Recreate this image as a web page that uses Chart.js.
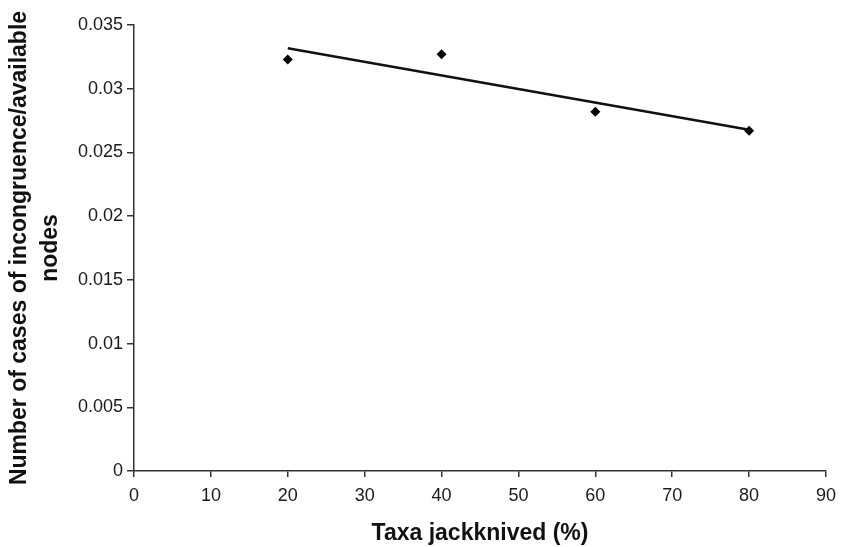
<!DOCTYPE html>
<html>
<head>
<meta charset="utf-8">
<script src="https://cdn.jsdelivr.net/npm/chart.js@4/dist/chart.umd.min.js"></script>
<style>
  html, body { margin: 0; padding: 0; background: #fff; }
  #wrap { width: 844px; height: 547px; }
</style>
</head>
<body>
<div id="wrap"><canvas id="jackChart" width="844" height="547"></canvas></div>
<script>
// values
const taxaJackknived = [20, 40, 60, 80];
const incongruence = [0.0323, 0.0327, 0.0282, 0.0267];
const xTicks = [0, 10, 20, 30, 40, 50, 60, 70, 80, 90];
const yTicks = [0, 0.005, 0.01, 0.015, 0.02, 0.025, 0.03, 0.035];

// least-squares trend line, like the spreadsheet's linear trendline
function linearFit(xs, ys) {
    const n = xs.length;
    const mx = xs.reduce((a, b) => a + b, 0) / n;
    const my = ys.reduce((a, b) => a + b, 0) / n;
    let num = 0, den = 0;
    for (let i = 0; i < n; i++) {
        num += (xs[i] - mx) * (ys[i] - my);
        den += (xs[i] - mx) * (xs[i] - mx);
    }
    const slope = num / den;
    return x => my + slope * (x - mx);
}
const fit = linearFit(taxaJackknived, incongruence);
const xFirst = taxaJackknived[0];
const xLast = taxaJackknived[taxaJackknived.length - 1];

Chart.defaults.font.family = '"Liberation Sans", Arial, sans-serif';
Chart.defaults.color = '#1a1a1a';

const ctx = document.getElementById('jackChart').getContext('2d');
new Chart(ctx, {
    type: 'scatter',
    data: {
        datasets: [
            {
                label: 'data',
                data: taxaJackknived.map((x, i) => ({ x: x, y: incongruence[i] })),
                pointStyle: 'rectRot',
                pointRadius: 5,
                backgroundColor: '#000',
                borderColor: '#000',
                borderWidth: 0,
                order: 1
            },
            {
                label: 'trend',
                type: 'line',
                data: [{ x: xFirst, y: fit(xFirst) }, { x: xLast, y: fit(xLast) }],
                borderColor: '#111',
                borderWidth: 2.5,
                pointRadius: 0,
                fill: false,
                order: 2
            }
        ]
    },
    options: {
        responsive: false,
        animation: false,
        layout: { padding: { top: 25, right: 11, left: 0, bottom: 0 } },
        plugins: {
            legend: { display: false },
            tooltip: { enabled: false }
        },
        scales: {
            x: {
                type: 'linear',
                min: 0,
                max: 90,
                afterBuildTicks: s => { s.ticks = xTicks.map(v => ({ value: v })); },
                afterFit: s => { s.height = 76; },
                grid: { drawOnChartArea: false, drawTicks: true, tickLength: 6, color: '#333', lineWidth: 1.5 },
                border: { display: true, color: '#333', width: 1.5 },
                ticks: { font: { size: 18 }, padding: 8, maxRotation: 0, color: '#1a1a1a' },
                title: {
                    display: true,
                    text: 'Taxa jackknived (%)',
                    font: { size: 23, weight: 'bold' },
                    padding: { top: 6, bottom: 0 },
                    color: '#111'
                }
            },
            y: {
                type: 'linear',
                min: 0,
                max: 0.035,
                afterBuildTicks: s => { s.ticks = yTicks.map(v => ({ value: v })); },
                afterFit: s => { s.width = 134; },
                grid: { drawOnChartArea: false, drawTicks: true, tickLength: 7, color: '#333', lineWidth: 1.5 },
                border: { display: true, color: '#333', width: 1.5 },
                ticks: {
                    font: { size: 18 },
                    padding: 4,
                    color: '#1a1a1a',
                    callback: v => String(+v.toFixed(3))
                },
                title: {
                    display: true,
                    text: ['Number of cases of incongruence/available', 'nodes'],
                    font: { size: 23, weight: 'bold', lineHeight: 1.35 },
                    padding: { top: 4, bottom: 0 },
                    color: '#111'
                }
            }
        }
    }
});
</script>
</body>
</html>
